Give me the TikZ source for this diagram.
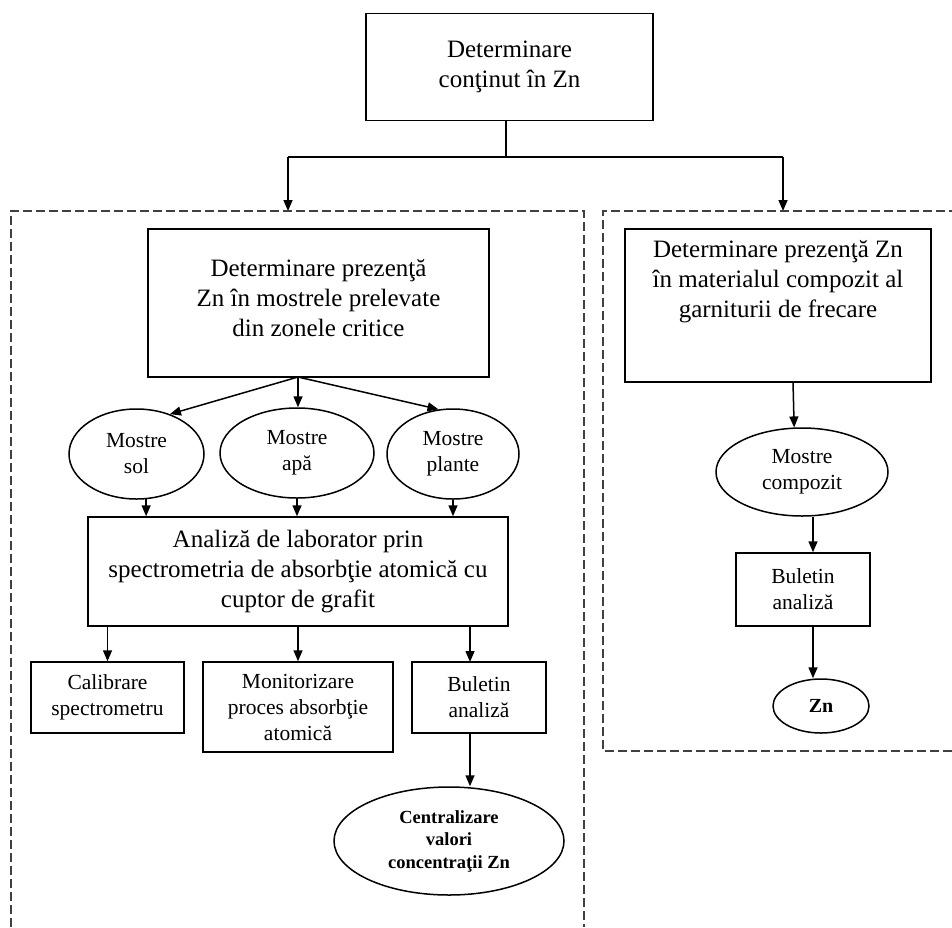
\documentclass[tikz,border=0pt]{standalone}
\usepackage{fontspec}
\setmainfont{Liberation Serif}
\usetikzlibrary{shapes.geometric,arrows.meta}
\begin{document}
\begin{tikzpicture}[x=1pt,y=-1pt,
  line width=1.5pt,
  box/.style={draw, rectangle, inner sep=0pt, align=center},
  oval/.style={draw, ellipse, inner sep=0pt, align=center},
  txt/.style={inner sep=0pt, align=center},
  bigfont/.style={font=\fontsize{25}{30}\selectfont},
  midfont/.style={font=\fontsize{21.5}{26}\selectfont},
  boldfont/.style={font=\fontsize{18.5}{22.5}\selectfont\bfseries},
  arr/.style={-{Triangle[length=11pt,width=9pt]}},
  frame/.style={draw=black!75, line width=1.3pt, dash pattern=on 9pt off 4pt},
]
\useasboundingbox (0,0) rectangle (952,927);

% ---- root and the two branches ----
\node[box, bigfont, minimum width=287pt, minimum height=107pt] (root) at (509.5,67) {Determinare\\conţinut în Zn};
\coordinate (split) at (506,157);
\coordinate (splitL) at (288,157);
\coordinate (splitR) at (783,157);
\coordinate (inL) at (288,211);
\coordinate (inR) at (783,211);
\draw (split |- root.south) -- (split);
\draw (splitL) -- (splitR);
\draw[arr] (splitL) -- (inL);
\draw[arr] (splitR) -- (inR);

% ---- dashed groups ----
\draw[frame] (11,927) -- (11,211) -- (584,211) -- (584,927);
\draw[frame] (952,751) -- (603,751) -- (603,211) -- (952,211);

% ---- environmental samples branch ----
\node[box, minimum width=341pt, minimum height=148pt] (sites) at (318.5,303) {};
\node[txt, bigfont] (sitestext) at (318.5,298) {Determinare prezenţă\\Zn în mostrele prelevate\\din zonele critice};
\coordinate (fan) at (298,377);

\node[oval, midfont, minimum width=135pt, minimum height=90pt] (sol) at (136.5,454) {Mostre\\sol};
\node[oval, midfont, minimum width=154pt, minimum height=90pt] (apa) at (297,453) {Mostre\\apă};
\node[oval, midfont, minimum width=132pt, minimum height=90pt] (plante) at (453,454) {Mostre\\plante};

\draw[arr] (fan) -- (sol.50);
\draw[arr] (fan) -- (fan |- apa.north);
\draw[arr] (fan) -- (plante.108);

\node[box, bigfont, minimum width=420pt, minimum height=109pt] (lab) at (298,571.5) {Analiză de laborator prin\\spectrometria de absorbţie atomică cu\\cuptor de grafit};

\draw[arr] (sol.-78) -- (sol.-78 |- lab.north);
\draw[arr] (apa.south) -- (apa.south |- lab.north);
\draw[arr] (plante.south) -- (plante.south |- lab.north);

\node[box, midfont, minimum width=153pt, minimum height=71pt] (calib) at (107.5,697.5) {Calibrare\\spectrometru};
\node[box, midfont, minimum width=190pt, minimum height=90pt] (monit) at (298,707) {Monitorizare\\proces absorbţie\\atomică};
\node[box, midfont, minimum width=134pt, minimum height=71pt] (bul) at (479,697.5) {Buletin\\analiză};
\coordinate (bulin) at (470,662);

\draw[arr] (calib.north |- lab.south) -- (calib.north);
\draw[arr] (monit.north |- lab.south) -- (monit.north);
\draw[arr] (bulin |- lab.south) -- (bulin);

\node[oval, boldfont, minimum width=230pt, minimum height=108pt] (central) at (449,841) {Centralizare\\valori\\concentraţii Zn};
\draw[arr] (bulin |- bul.south) -- (bulin |- central.north);

% ---- composite material branch ----
\node[box, minimum width=306pt, minimum height=153pt] (comp) at (778,305.5) {};
\node[txt, bigfont] (comptext) at (778,282) {Determinare prezenţă Zn\\în materialul compozit al\\garniturii de frecare};
\coordinate (compout) at (793,382);

\node[oval, midfont, minimum width=172pt, minimum height=88pt] (mcomp) at (802,472) {Mostre\\compozit};
\draw[arr] (compout) -- (mcomp.100);

\node[box, midfont, minimum width=134pt, minimum height=73pt] (bul2) at (803,589.5) {Buletin\\analiză};
\coordinate (rcol) at (813,600);
\draw[arr] (rcol |- mcomp.south) -- (rcol |- bul2.north);

\node[oval, font=\fontsize{20}{24}\selectfont\bfseries, minimum width=96pt, minimum height=54pt] (zn) at (821,706) {Zn};
\draw[arr] (rcol |- bul2.south) -- (rcol |- zn.north);
\end{tikzpicture}
\end{document}
